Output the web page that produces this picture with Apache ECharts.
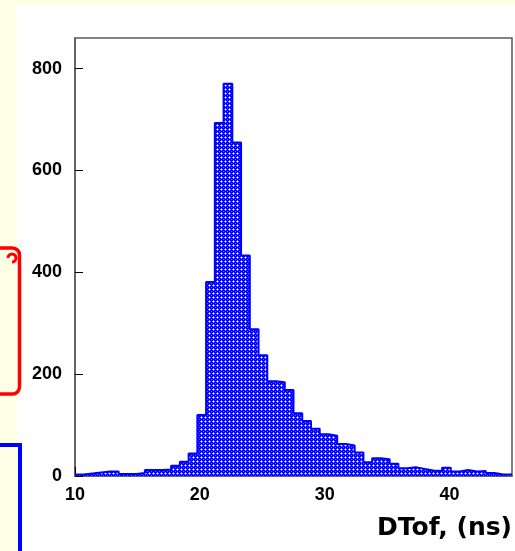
<!DOCTYPE html>
<html>
<head>
<meta charset="utf-8">
<script src="https://cdn.jsdelivr.net/npm/echarts@6/dist/echarts.min.js"></script>
<style>
  html, body { margin: 0; padding: 0; background: #FFFFE6; }
  #panel { position: absolute; left: 17px; top: 6px; width: 498px; height: 545px; background: #fff; }
  #chart { position: absolute; left: 0; top: 0; width: 515px; height: 551px; }
</style>
</head>
<body>
<div id="panel"></div>
<div id="chart"></div>
<script>
// histogram: 50 bins of 0.7 ns between 10 and 45 ns
var binStart = 10;
var binWidth = 0.7;
var counts = [
    3, 5, 7, 9, 9, 4, 4, 6, 12, 12,
    13, 20, 28, 44, 120, 381, 693, 770, 655, 433,
    288, 237, 186, 184, 169, 123, 108, 93, 82, 79,
    63, 60, 46, 27, 35, 33, 24, 15, 17, 14,
    11, 10, 16, 9, 12, 9, 10, 6, 3, 3
];
var xTicks = [10, 20, 30, 40];
var yTicks = [0, 200, 400, 600, 800];

// step points at bin edges, last edge repeats last count
var stepData = counts.map(function (c, i) {
    return [+(binStart + i * binWidth).toFixed(2), c];
});
stepData.push([+(binStart + counts.length * binWidth).toFixed(2), counts[counts.length - 1]]);

// small crosshatch tile for the fill
var tile = document.createElement('canvas');
tile.width = 4; tile.height = 4;
var tc = tile.getContext('2d');
tc.fillStyle = '#0000ff'; tc.fillRect(0, 0, 4, 4);
tc.fillStyle = '#8c8cff';
tc.fillRect(0, 1, 1, 1); tc.fillRect(2, 1, 1, 1); tc.fillRect(1, 0, 1, 1); tc.fillRect(1, 2, 1, 1);
tc.fillStyle = '#ffffff'; tc.fillRect(1, 1, 1, 1);
tc.fillStyle = '#5a5aff'; tc.fillRect(3, 3, 1, 1);

var labelFont = { fontFamily: 'Liberation Sans, Arial, sans-serif', fontWeight: 'bold', fontSize: 18, color: '#000' };
var frameColor = '#5a5a5a';

var chart = echarts.init(document.getElementById('chart'), null, { renderer: 'canvas' });
chart.setOption({
    backgroundColor: 'transparent',
    animation: false,
    grid: { left: 75, right: 3, top: 38, bottom: 75, show: true, borderColor: frameColor, borderWidth: 1.5, backgroundColor: '#fff' },
    xAxis: {
        type: 'value', min: 10, max: 45, interval: 10,
        axisLine: { show: true, onZero: false, lineStyle: { color: frameColor, width: 1.5 } },
        axisTick: { show: true, inside: true, length: 9, lineStyle: { color: '#000', width: 1 } },
        axisLabel: Object.assign({ margin: 10, showMaxLabel: false,
            formatter: function (v) { return xTicks.indexOf(v) >= 0 ? String(v) : ''; } }, labelFont),
        splitLine: { show: false }
    },
    yAxis: {
        type: 'value', min: 0, max: 860, interval: 200,
        axisLine: { show: true, lineStyle: { color: frameColor, width: 1.5 } },
        axisTick: { show: true, inside: true, length: 8, lineStyle: { color: '#000', width: 1 } },
        axisLabel: Object.assign({ margin: 13, showMaxLabel: false,
            formatter: function (v) { return yTicks.indexOf(v) >= 0 ? String(v) : ''; } }, labelFont),
        splitLine: { show: false }
    },
    series: [{
        type: 'line',
        step: 'end',
        data: stepData,
        showSymbol: false,
        lineStyle: { color: '#0000ff', width: 2 },
        areaStyle: { color: { image: tile, repeat: 'repeat' }, opacity: 1 },
        z: 1
    }],
    graphic: [
        { type: 'text', right: 3, top: 516,
          style: { text: 'DTof, (ns)', font: 'bold 25px "DejaVu Sans", sans-serif', fill: '#000' } },
        { type: 'rect', shape: { x: -10, y: 248, width: 29.5, height: 146, r: 7 },
          style: { fill: null, stroke: '#ff0000', lineWidth: 3.5 } },
        { type: 'arc', shape: { cx: 12, cy: 258, r: 4, startAngle: Math.PI, endAngle: Math.PI * 0.5, clockwise: true },
          style: { fill: null, stroke: '#ff0000', lineWidth: 3 } },
        { type: 'rect', shape: { x: -10, y: 445, width: 30, height: 200 },
          style: { fill: null, stroke: '#0000ff', lineWidth: 4 } }
    ]
});
</script>
</body>
</html>
